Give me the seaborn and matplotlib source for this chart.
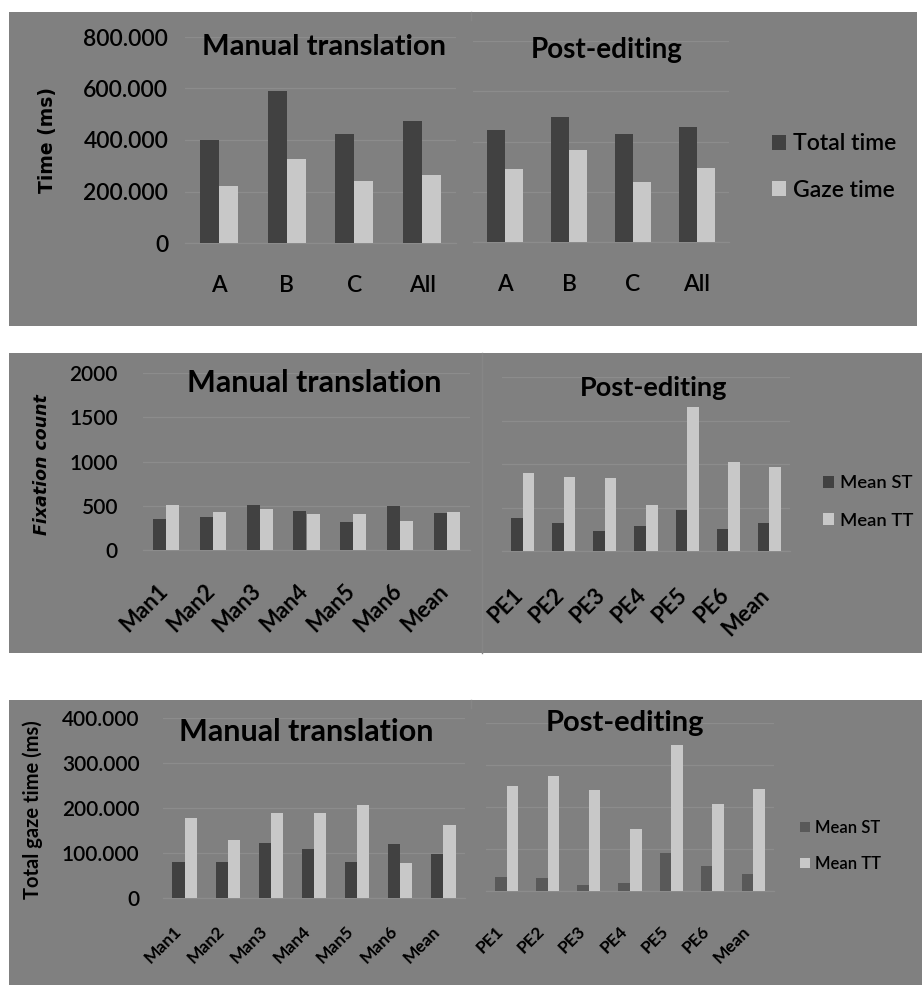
import matplotlib
matplotlib.use("Agg")
import matplotlib.pyplot as plt
import matplotlib.transforms as mtransforms
from matplotlib.patches import Rectangle
from matplotlib.ticker import FuncFormatter
import numpy as np
import pandas as pd
import seaborn as sns

plt.rcParams["font.family"] = ["Lato", "DejaVu Sans"]
plt.rcParams["font.weight"] = "semibold"

# ---------------- data ----------------
# Chart 1: total time vs gaze time per text (ms)
time_cats = ["A", "B", "C", "All"]
man_total_time = [400000, 590000, 423000, 474000]
man_gaze_time = [222000, 326000, 241000, 263000]
pe_total_time = [444000, 498000, 430000, 458000]
pe_gaze_time = [290000, 367000, 237000, 295000]
time_series = ["Total time", "Gaze time"]

# Chart 2: fixation counts in source text (ST) and target text (TT)
man_cats = ["Man1", "Man2", "Man3", "Man4", "Man5", "Man6", "Mean"]
pe_cats = ["PE1", "PE2", "PE3", "PE4", "PE5", "PE6", "Mean"]
man_fix_st = [353, 368, 508, 444, 316, 492, 417]
man_fix_tt = [508, 429, 466, 406, 406, 327, 429]
pe_fix_st = [379, 322, 234, 284, 471, 257, 322]
pe_fix_tt = [900, 854, 843, 533, 1651, 1019, 969]

# Chart 3: total gaze time (ms) in ST and TT
man_gaze_st = [81000, 79000, 123000, 109000, 81000, 120000, 98000]
man_gaze_tt = [177000, 130000, 190000, 190000, 206000, 77000, 162000]
pe_gaze_st = [33000, 32000, 14000, 19000, 91000, 59000, 41000]
pe_gaze_tt = [251000, 274000, 240000, 148000, 348000, 206000, 244000]
st_tt_series = ["Mean ST", "Mean TT"]

# ---------------- styling ----------------
BG = "#808080"
GRID = "#8c8c8c"
DARK = "#414141"
DARK_SOFT = "#595959"
LIGHT = "#c8c8c8"

W, H = 922, 985
fig = plt.figure(figsize=(W / 100, H / 100), dpi=100)
fig.patch.set_facecolor("white")


def fx(x):
    return x / W


def fy(y):
    return 1 - y / H


def panel(x0, y0, x1, y1):
    fig.patches.append(Rectangle((fx(x0), fy(y1)), (x1 - x0) / W, (y1 - y0) / H,
                                 transform=fig.transFigure, facecolor=BG,
                                 edgecolor="none", zorder=-2))


def seam(x, y0, y1):
    fig.lines.append(plt.Line2D([fx(x), fx(x)], [fy(y0), fy(y1)], transform=fig.transFigure,
                                color="#868686", lw=1.0, zorder=-1))


def axes_px(x0, x1, y_zero, y_top):
    ax = fig.add_axes([fx(x0), fy(y_zero), (x1 - x0) / W, (y_zero - y_top) / H])
    ax.set_facecolor("none")
    return ax


def dotted_thousands(v, pos):
    v = int(round(v))
    return "0" if v == 0 else f"{v:,}".replace(",", ".")


def bars(ax, cats, first, second, names, colors, ymax, step, show_y, ylab_fmt,
         tick_size, ypad, xpad, rotate, xsize, xweight, xshift=0):
    df = pd.DataFrame({
        "cat": cats * 2,
        "val": list(first) + list(second),
        "series": [names[0]] * len(cats) + [names[1]] * len(cats),
    })
    sns.barplot(data=df, x="cat", y="val", hue="series", hue_order=names,
                palette=colors, width=0.56, gap=0, saturation=1, linewidth=0,
                legend=False, ax=ax, zorder=3)
    ax.set_xlim(-0.5, len(cats) - 0.5)
    ax.set_ylim(0, ymax)
    ax.set_yticks(np.arange(0, ymax + 1, step))
    ax.yaxis.set_major_formatter(FuncFormatter(ylab_fmt))
    ax.yaxis.grid(True, color=GRID, lw=0.9)
    ax.set_axisbelow(True)
    for s in ["top", "right", "left"]:
        ax.spines[s].set_visible(False)
    ax.spines["bottom"].set_color(GRID)
    ax.spines["bottom"].set_linewidth(0.9)
    ax.set_xlabel("")
    ax.set_ylabel("")
    ax.tick_params(axis="y", length=0, pad=ypad, labelsize=tick_size, labelleft=show_y,
                   labelcolor="black")
    ax.tick_params(axis="x", length=0, pad=xpad, labelsize=xsize, labelcolor="black")
    shift = mtransforms.ScaledTranslation(xshift / 72, 0, fig.dpi_scale_trans)
    for t in ax.get_xticklabels():
        t.set_fontweight(xweight)
        if rotate:
            t.set_rotation(45)
            t.set_ha("right")
            t.set_va("top")
            t.set_transform(t.get_transform() + shift)


def legend_at(x, y, names, colors, size, spacing):
    handles = [Rectangle((0, 0), 1, 1, facecolor=c, edgecolor="none") for c in colors]
    fig.legend(handles, names, loc="center left", bbox_to_anchor=(fx(x), fy(y)),
               bbox_transform=fig.transFigure, frameon=False, fontsize=size,
               handlelength=0.6, handleheight=0.6, handletextpad=0.3,
               labelspacing=spacing, borderpad=0, borderaxespad=0)


# ---------------- panel backgrounds ----------------
panel(9, 12, 917, 326)
panel(9, 353, 922, 653)
panel(9, 700, 922, 985)
seam(471, 12, 20)
seam(482, 353, 653)
seam(471, 700, 708)

# ---------------- chart 1: time ----------------
ax = axes_px(185, 456, 243, 37)
bars(ax, time_cats, man_total_time, man_gaze_time, time_series, [DARK, LIGHT],
     800000, 200000, True, dotted_thousands, 16.5, 12, 23, False, 16.5, "semibold")
ax = axes_px(473, 729, 242, 41)
bars(ax, time_cats, pe_total_time, pe_gaze_time, time_series, [DARK, LIGHT],
     800000, 200000, False, dotted_thousands, 16.5, 12, 23, False, 16.5, "semibold")
fig.text(fx(324), fy(47), "Manual translation", ha="center", va="center",
         fontsize=21, fontweight="bold")
fig.text(fx(607), fy(50), "Post-editing", ha="center", va="center",
         fontsize=20, fontweight="bold")
fig.text(fx(47), fy(140), "Time (ms)", ha="center", va="center", rotation=90,
         fontsize=13.5, fontweight="bold", family="DejaVu Sans")
legend_at(772, 167, time_series, [DARK, LIGHT], 16.5, 1.1)

# ---------------- chart 2: fixation count ----------------
ax = axes_px(143, 470, 550, 373)
bars(ax, man_cats, man_fix_st, man_fix_tt, st_tt_series, [DARK, LIGHT],
     2000, 500, True, lambda v, p: f"{int(v)}", 15, 18, 22, True, 16, "bold", xshift=4)
ax = axes_px(502, 790, 551, 377)
bars(ax, pe_cats, pe_fix_st, pe_fix_tt, st_tt_series, [DARK, LIGHT],
     2000, 500, False, lambda v, p: f"{int(v)}", 15, 18, 24, True, 16, "bold", xshift=3)
fig.text(fx(314), fy(383), "Manual translation", ha="center", va="center",
         fontsize=22, fontweight="bold")
fig.text(fx(654), fy(388), "Post-editing", ha="center", va="center",
         fontsize=19.5, fontweight="bold")
fig.text(fx(42), fy(465), "Fixation count", ha="center", va="center", rotation=90,
         fontsize=12.5, fontweight="bold", fontstyle="italic", family="DejaVu Sans")
legend_at(823, 502, st_tt_series, [DARK, LIGHT], 13.3, 1.15)

# ---------------- chart 3: total gaze time ----------------
ax = axes_px(163, 465, 898, 718)
bars(ax, man_cats, man_gaze_st, man_gaze_tt, st_tt_series, [DARK, LIGHT],
     400000, 100000, True, dotted_thousands, 15, 17, 18, True, 12.5, "bold")
ax = axes_px(486, 774, 891, 723)
bars(ax, pe_cats, pe_gaze_st, pe_gaze_tt, st_tt_series, [DARK_SOFT, LIGHT],
     400000, 100000, False, dotted_thousands, 15, 17, 23, True, 12.5, "bold")
fig.text(fx(306), fy(732), "Manual translation", ha="center", va="center",
         fontsize=22, fontweight="bold")
fig.text(fx(625), fy(723), "Post-editing", ha="center", va="center",
         fontsize=21, fontweight="bold")
fig.text(fx(33), fy(810), "Total gaze time (ms)", ha="center", va="center", rotation=90,
         fontsize=14.5, fontweight="bold")
legend_at(800, 846, st_tt_series, [DARK_SOFT, LIGHT], 12, 1.2)

fig.savefig("out.png", dpi=100, facecolor="white")
